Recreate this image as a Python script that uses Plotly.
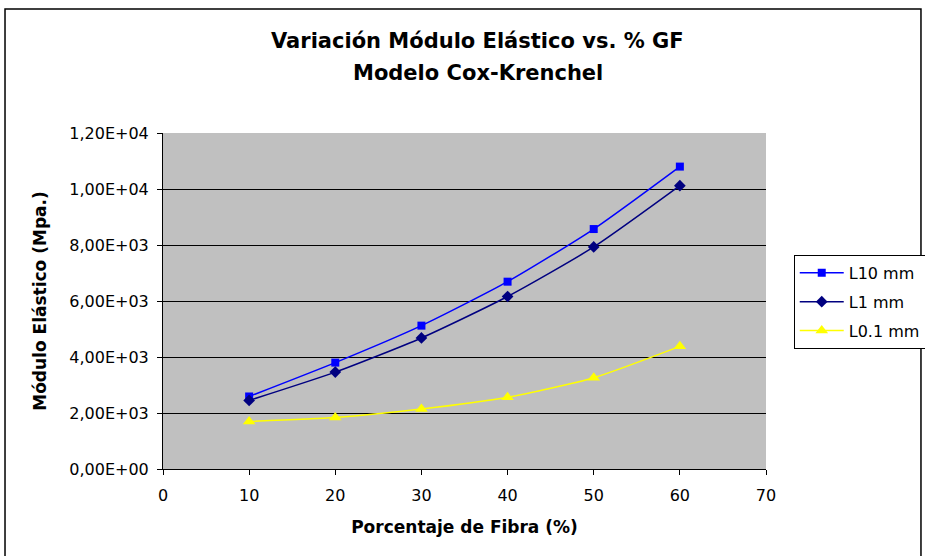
import plotly.graph_objects as go

# Fiber percentage (x) and elastic modulus (MPa) for each fiber length
fibra = [10, 20, 30, 40, 50, 60]
l10_mm = [2590, 3800, 5120, 6690, 8570, 10800]
l1_mm = [2450, 3460, 4680, 6160, 7930, 10120]
l01_mm = [1700, 1840, 2140, 2560, 3260, 4380]

y_ticks = [0, 2000, 4000, 6000, 8000, 10000, 12000]
y_labels = ["0,00E+00", "2,00E+03", "4,00E+03", "6,00E+03",
            "8,00E+03", "1,00E+04", "1,20E+04"]
x_ticks = [0, 10, 20, 30, 40, 50, 60, 70]

font_txt = "DejaVu Sans"

trace1 = go.Scatter(x=fibra,
                    y=l10_mm,
                    mode='lines+markers',
                    name='L10 mm',
                    legendgroup='a',
                    line=dict(color='#0000FF', width=1.5, shape='spline', smoothing=0.6),
                    marker=dict(symbol='square', size=8, color='#0000FF'))

trace2 = go.Scatter(x=fibra,
                    y=l1_mm,
                    mode='lines+markers',
                    name='L1 mm',
                    legendgroup='b',
                    line=dict(color='#000080', width=1.5, shape='spline', smoothing=0.6),
                    marker=dict(symbol='diamond', size=9, color='#000080'))

trace3 = go.Scatter(x=fibra,
                    y=l01_mm,
                    mode='lines+markers',
                    name='L0.1 mm',
                    legendgroup='c',
                    line=dict(color='#FFFF00', width=1.5, shape='spline', smoothing=0.6),
                    marker=dict(symbol='triangle-up', size=11, color='#FFFF00'))

fig = go.Figure(data=[trace1, trace2, trace3])

fig.update_layout(width=925, height=556,
                  margin=dict(l=163, r=159, t=133, b=87, autoexpand=False),
                  paper_bgcolor='white',
                  plot_bgcolor='#C0C0C0',
                  font=dict(family=font_txt, size=16, color='black'),
                  showlegend=True,
                  legend=dict(x=1.046, y=0.637, xanchor='left', yanchor='top',
                              bgcolor='white', bordercolor='black', borderwidth=1,
                              font=dict(family=font_txt, size=16, color='black'),
                              itemwidth=44, tracegroupgap=5, entrywidth=100),
                  annotations=[
                      dict(text='<b>Variación Módulo Elástico vs. % GF</b>',
                           xref='paper', yref='paper', x=0.522, y=1.274,
                           xanchor='center', yanchor='middle', showarrow=False,
                           font=dict(family=font_txt, size=21, color='black')),
                      dict(text='<b>Modelo Cox-Krenchel</b>',
                           xref='paper', yref='paper', x=0.522, y=1.179,
                           xanchor='center', yanchor='middle', showarrow=False,
                           font=dict(family=font_txt, size=21, color='black')),
                  ],
                  shapes=[dict(type='rect', xref='paper', yref='paper',
                               x0=-0.262, x1=1.257, y0=-0.3, y1=1.369,
                               line=dict(color='black', width=1.5),
                               fillcolor='rgba(0,0,0,0)', layer='below')])

fig.update_xaxes(range=[0, 70],
                 tickvals=x_ticks,
                 showgrid=False, zeroline=False,
                 showline=True, linecolor='black', linewidth=1,
                 ticks='outside', ticklen=5, tickcolor='black',
                 ticklabelstandoff=7,
                 tickfont=dict(family=font_txt, size=16),
                 title=dict(text='<b>Porcentaje de Fibra (%)</b>', standoff=16,
                            font=dict(family=font_txt, size=17)))

fig.update_yaxes(range=[0, 12000],
                 tickvals=y_ticks, ticktext=y_labels,
                 showgrid=True, gridcolor='black', gridwidth=1,
                 zeroline=False,
                 showline=True, linecolor='black', linewidth=1,
                 ticks='outside', ticklen=5, tickcolor='black',
                 ticklabelstandoff=5,
                 tickfont=dict(family=font_txt, size=16),
                 title=dict(text='<b>Módulo Elástico (Mpa.)</b>', standoff=18,
                            font=dict(family=font_txt, size=17)))

# drop the page's default body margin so the figure sits at the window origin
fig.write_html("out.html",
               config={'displayModeBar': False, 'responsive': False},
               post_script="document.body.style.margin='0';"
                           "document.body.style.overflow='hidden';")
